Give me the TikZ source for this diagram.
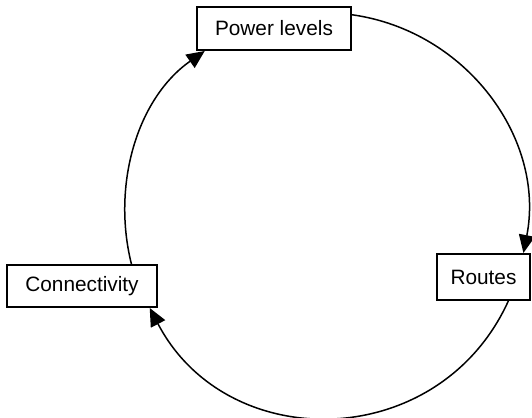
\documentclass[tikz,border=0pt]{standalone}
\usepackage{fontspec}
\setmainfont{Liberation Sans}
\usetikzlibrary{arrows.meta}

\tikzset{
  stage/.style = {draw, line width = 1pt, minimum height = 21.5pt, inner sep = 0pt,
    font = \fontsize{10.4}{12}\selectfont},
  feedback/.style = {line width = 0.75pt, -{Triangle[length = 9pt, width = 8pt]}}
}

\begin{document}
\begin{tikzpicture}[x = 0.5pt, y = 0.5pt]
  \useasboundingbox (0, 0) rectangle (532, 418);

  \node[stage, minimum width = 77pt] (power) at (274, 389.5) {Power levels};
  \node[stage, minimum width = 75pt, minimum height = 21pt] (conn) at (82, 132) {Connectivity};
  \node[stage, minimum width = 46.5pt, minimum height = 23pt] (routes) at (483.5, 141) {Routes};

  % arcs of one circle, border to border
  \foreach \src/\dst/\o/\i/\l in {power.10/routes.31/-8/79/1.01,
      routes.-44/conn.-18/-114.5/-62.4/1.19, conn.24/power.198/104/215/0.935}
    \draw[feedback] (\src) to[out = \o, in = \i, looseness = \l] (\dst);
\end{tikzpicture}
\end{document}
